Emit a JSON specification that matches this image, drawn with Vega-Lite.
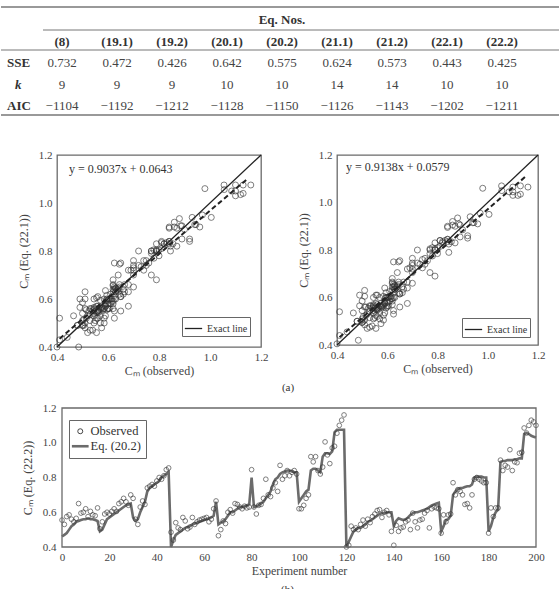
{
  "$schema": "https://vega.github.io/schema/vega-lite/v6.json",
  "usermeta": {"embedOptions": {"actions": false}},
  "padding": 0,
  "background": "white",
  "bounds": "flush",
  "columns": 2,
  "align": "each",
  "spacing": {"row": 61, "column": 76},
  "config": {
    "font": "Liberation Serif",
    "view": {"stroke": "#6a6a6a", "strokeWidth": 1.3},
    "axis": {
      "grid": false, "domain": false, "ticks": false, "tickSize": 0,
      "labelFont": "Liberation Serif", "labelFontSize": 11, "labelColor": "#444",
      "labelFlush": false, "labelOverlap": false,
      "titleFont": "Liberation Serif", "titleFontSize": 12, "titleFontWeight": "normal", "titleColor": "#444"
    },
    "title": {"font": "Liberation Serif", "fontSize": 11, "fontWeight": "normal", "color": "#333"}
  },
  "resolve": {"scale": {"color": "independent"}, "legend": {"color": "independent"}},
  "datasets": {
    "table": [
      {"stat": "SSE", "eq": "(8)", "v": "0.732"}, {"stat": "SSE", "eq": "(19.1)", "v": "0.472"}, {"stat": "SSE", "eq": "(19.2)", "v": "0.426"},
      {"stat": "SSE", "eq": "(20.1)", "v": "0.642"}, {"stat": "SSE", "eq": "(20.2)", "v": "0.575"}, {"stat": "SSE", "eq": "(21.1)", "v": "0.624"},
      {"stat": "SSE", "eq": "(21.2)", "v": "0.573"}, {"stat": "SSE", "eq": "(22.1)", "v": "0.443"}, {"stat": "SSE", "eq": "(22.2)", "v": "0.425"},
      {"stat": "k", "eq": "(8)", "v": "9"}, {"stat": "k", "eq": "(19.1)", "v": "9"}, {"stat": "k", "eq": "(19.2)", "v": "9"},
      {"stat": "k", "eq": "(20.1)", "v": "10"}, {"stat": "k", "eq": "(20.2)", "v": "10"}, {"stat": "k", "eq": "(21.1)", "v": "14"},
      {"stat": "k", "eq": "(21.2)", "v": "14"}, {"stat": "k", "eq": "(22.1)", "v": "10"}, {"stat": "k", "eq": "(22.2)", "v": "10"},
      {"stat": "AIC", "eq": "(8)", "v": "−1104"}, {"stat": "AIC", "eq": "(19.1)", "v": "−1192"}, {"stat": "AIC", "eq": "(19.2)", "v": "−1212"},
      {"stat": "AIC", "eq": "(20.1)", "v": "−1128"}, {"stat": "AIC", "eq": "(20.2)", "v": "−1150"}, {"stat": "AIC", "eq": "(21.1)", "v": "−1126"},
      {"stat": "AIC", "eq": "(21.2)", "v": "−1143"}, {"stat": "AIC", "eq": "(22.1)", "v": "−1202"}, {"stat": "AIC", "eq": "(22.2)", "v": "−1211"}
    ],
    "eqs": [
      {"eq": "(8)"}, {"eq": "(19.1)"}, {"eq": "(19.2)"}, {"eq": "(20.1)"}, {"eq": "(20.2)"},
      {"eq": "(21.1)"}, {"eq": "(21.2)"}, {"eq": "(22.1)"}, {"eq": "(22.2)"}
    ],
    "exact": [{"x": 0.4, "y": 0.4}, {"x": 1.2, "y": 1.2}],
    "fit221": [{"x": 0.41, "y": 0.4348, "eq": "y = 0.9037x + 0.0643"}, {"x": 1.15, "y": 1.1036, "eq": "y = 0.9037x + 0.0643"}],
    "fit222": [{"x": 0.41, "y": 0.4326, "eq": "y = 0.9138x + 0.0579"}, {"x": 1.15, "y": 1.1088, "eq": "y = 0.9138x + 0.0579"}],
    "runs": [
      {"n":0,"o":0.555,"e":0.46,"f":0.47},{"n":1,"o":0.53,"e":0.47,"f":0.475},{"n":2,"o":0.575,"e":0.48,"f":0.49},
      {"n":3,"o":0.585,"e":0.5,"f":0.505},{"n":4,"o":0.56,"e":0.52,"f":0.52},{"n":5,"o":0.545,"e":0.53,"f":0.535},
      {"n":6,"o":0.565,"e":0.545,"f":0.55},{"n":7,"o":0.65,"e":0.55,"f":0.56},{"n":8,"o":0.595,"e":0.555,"f":0.555},
      {"n":9,"o":0.6,"e":0.56,"f":0.565},{"n":10,"o":0.62,"e":0.56,"f":0.57},{"n":11,"o":0.575,"e":0.565,"f":0.56},
      {"n":12,"o":0.605,"e":0.56,"f":0.565},{"n":13,"o":0.585,"e":0.56,"f":0.57},{"n":14,"o":0.58,"e":0.555,"f":0.56},
      {"n":15,"o":0.625,"e":0.55,"f":0.545},{"n":16,"o":0.505,"e":0.49,"f":0.5},{"n":17,"o":0.545,"e":0.5,"f":0.51},
      {"n":18,"o":0.59,"e":0.53,"f":0.535},{"n":19,"o":0.6,"e":0.56,"f":0.56},{"n":20,"o":0.59,"e":0.57,"f":0.575},
      {"n":21,"o":0.605,"e":0.58,"f":0.58},{"n":22,"o":0.62,"e":0.59,"f":0.595},{"n":23,"o":0.605,"e":0.6,"f":0.6},
      {"n":24,"o":0.65,"e":0.61,"f":0.615},{"n":25,"o":0.66,"e":0.62,"f":0.62},{"n":26,"o":0.68,"e":0.63,"f":0.64},
      {"n":27,"o":0.66,"e":0.64,"f":0.645},{"n":28,"o":0.64,"e":0.645,"f":0.65},{"n":29,"o":0.7,"e":0.65,"f":0.66},
      {"n":30,"o":0.68,"e":0.57,"f":0.575},{"n":31,"o":0.56,"e":0.55,"f":0.55},{"n":32,"o":0.53,"e":0.56,"f":0.565},
      {"n":33,"o":0.63,"e":0.6,"f":0.6},{"n":34,"o":0.665,"e":0.63,"f":0.635},{"n":35,"o":0.645,"e":0.66,"f":0.665},
      {"n":36,"o":0.74,"e":0.72,"f":0.725},{"n":37,"o":0.75,"e":0.74,"f":0.74},{"n":38,"o":0.76,"e":0.75,"f":0.755},
      {"n":39,"o":0.75,"e":0.76,"f":0.765},{"n":40,"o":0.78,"e":0.77,"f":0.775},{"n":41,"o":0.8,"e":0.78,"f":0.785},
      {"n":42,"o":0.79,"e":0.8,"f":0.8},{"n":43,"o":0.81,"e":0.81,"f":0.815},{"n":44,"o":0.845,"e":0.82,"f":0.825},
      {"n":45,"o":0.855,"e":0.83,"f":0.835},{"n":46,"o":0.485,"e":0.4,"f":0.42},{"n":47,"o":0.44,"e":0.44,"f":0.455},
      {"n":48,"o":0.54,"e":0.47,"f":0.48},{"n":49,"o":0.51,"e":0.48,"f":0.485},{"n":50,"o":0.5,"e":0.49,"f":0.495},
      {"n":51,"o":0.57,"e":0.5,"f":0.51},{"n":52,"o":0.55,"e":0.51,"f":0.515},{"n":53,"o":0.505,"e":0.515,"f":0.52},
      {"n":54,"o":0.515,"e":0.52,"f":0.525},{"n":55,"o":0.57,"e":0.53,"f":0.535},{"n":56,"o":0.53,"e":0.535,"f":0.54},
      {"n":57,"o":0.545,"e":0.54,"f":0.545},{"n":58,"o":0.555,"e":0.545,"f":0.55},{"n":59,"o":0.56,"e":0.55,"f":0.555},
      {"n":60,"o":0.565,"e":0.555,"f":0.56},{"n":61,"o":0.57,"e":0.56,"f":0.565},{"n":62,"o":0.545,"e":0.565,"f":0.57},
      {"n":63,"o":0.56,"e":0.57,"f":0.57},{"n":64,"o":0.62,"e":0.58,"f":0.585},{"n":65,"o":0.665,"e":0.66,"f":0.665},
      {"n":66,"o":0.465,"e":0.53,"f":0.535},{"n":67,"o":0.5,"e":0.54,"f":0.545},{"n":68,"o":0.55,"e":0.55,"f":0.555},
      {"n":69,"o":0.535,"e":0.56,"f":0.565},{"n":70,"o":0.6,"e":0.58,"f":0.58},{"n":71,"o":0.615,"e":0.6,"f":0.605},
      {"n":72,"o":0.595,"e":0.6,"f":0.6},{"n":73,"o":0.65,"e":0.61,"f":0.615},{"n":74,"o":0.645,"e":0.62,"f":0.62},
      {"n":75,"o":0.63,"e":0.63,"f":0.635},{"n":76,"o":0.62,"e":0.63,"f":0.63},{"n":77,"o":0.635,"e":0.635,"f":0.64},
      {"n":78,"o":0.625,"e":0.64,"f":0.645},{"n":79,"o":0.63,"e":0.645,"f":0.65},{"n":80,"o":0.845,"e":0.8,"f":0.79},
      {"n":81,"o":0.63,"e":0.63,"f":0.635},{"n":82,"o":0.59,"e":0.635,"f":0.64},{"n":83,"o":0.64,"e":0.64,"f":0.645},
      {"n":84,"o":0.645,"e":0.65,"f":0.655},{"n":85,"o":0.68,"e":0.66,"f":0.665},{"n":86,"o":0.79,"e":0.68,"f":0.69},
      {"n":87,"o":0.7,"e":0.7,"f":0.705},{"n":88,"o":0.69,"e":0.72,"f":0.725},{"n":89,"o":0.74,"e":0.76,"f":0.76},
      {"n":90,"o":0.77,"e":0.79,"f":0.785},{"n":91,"o":0.72,"e":0.8,"f":0.8},{"n":92,"o":0.87,"e":0.82,"f":0.83},
      {"n":93,"o":0.79,"e":0.83,"f":0.83},{"n":94,"o":0.81,"e":0.835,"f":0.84},{"n":95,"o":0.84,"e":0.84,"f":0.845},
      {"n":96,"o":0.81,"e":0.84,"f":0.84},{"n":97,"o":0.83,"e":0.835,"f":0.84},{"n":98,"o":0.84,"e":0.83,"f":0.835},
      {"n":99,"o":0.82,"e":0.83,"f":0.83},{"n":100,"o":0.62,"e":0.66,"f":0.665},{"n":101,"o":0.62,"e":0.68,"f":0.68},
      {"n":102,"o":0.64,"e":0.7,"f":0.705},{"n":103,"o":0.68,"e":0.72,"f":0.72},{"n":104,"o":0.7,"e":0.73,"f":0.735},
      {"n":105,"o":0.92,"e":0.84,"f":0.85},{"n":106,"o":0.89,"e":0.85,"f":0.855},{"n":107,"o":0.92,"e":0.85,"f":0.86},
      {"n":108,"o":0.84,"e":0.84,"f":0.845},{"n":109,"o":0.82,"e":0.83,"f":0.835},{"n":110,"o":0.86,"e":0.92,"f":0.92},
      {"n":111,"o":1.005,"e":0.94,"f":0.95},{"n":112,"o":0.93,"e":0.94,"f":0.94},{"n":113,"o":0.88,"e":0.935,"f":0.935},
      {"n":114,"o":0.97,"e":0.95,"f":0.955},{"n":115,"o":0.98,"e":1.06,"f":1.06},{"n":116,"o":1.055,"e":1.075,"f":1.07},
      {"n":117,"o":1.1,"e":1.075,"f":1.065},{"n":118,"o":1.13,"e":1.075,"f":1.07},{"n":119,"o":1.16,"e":1.075,"f":1.065},
      {"n":120,"o":0.4,"e":0.4,"f":0.405},{"n":121,"o":0.41,"e":0.43,"f":0.44},{"n":122,"o":0.52,"e":0.46,"f":0.47},
      {"n":123,"o":0.5,"e":0.49,"f":0.495},{"n":124,"o":0.51,"e":0.5,"f":0.505},{"n":125,"o":0.5,"e":0.51,"f":0.51},
      {"n":126,"o":0.53,"e":0.51,"f":0.515},{"n":127,"o":0.555,"e":0.52,"f":0.525},{"n":128,"o":0.52,"e":0.53,"f":0.53},
      {"n":129,"o":0.56,"e":0.545,"f":0.55},{"n":130,"o":0.54,"e":0.55,"f":0.555},{"n":131,"o":0.575,"e":0.56,"f":0.565},
      {"n":132,"o":0.59,"e":0.57,"f":0.575},{"n":133,"o":0.61,"e":0.58,"f":0.585},{"n":134,"o":0.615,"e":0.59,"f":0.595},
      {"n":135,"o":0.57,"e":0.595,"f":0.6},{"n":136,"o":0.6,"e":0.595,"f":0.6},{"n":137,"o":0.61,"e":0.6,"f":0.605},
      {"n":138,"o":0.585,"e":0.6,"f":0.605},{"n":139,"o":0.49,"e":0.6,"f":0.61},{"n":140,"o":0.41,"e":0.52,"f":0.54},
      {"n":141,"o":0.525,"e":0.55,"f":0.555},{"n":142,"o":0.49,"e":0.565,"f":0.565},{"n":143,"o":0.51,"e":0.56,"f":0.56},
      {"n":144,"o":0.515,"e":0.555,"f":0.56},{"n":145,"o":0.545,"e":0.56,"f":0.565},{"n":146,"o":0.555,"e":0.57,"f":0.575},
      {"n":147,"o":0.5,"e":0.585,"f":0.585},{"n":148,"o":0.595,"e":0.595,"f":0.6},{"n":149,"o":0.545,"e":0.6,"f":0.6},
      {"n":150,"o":0.51,"e":0.6,"f":0.605},{"n":151,"o":0.555,"e":0.605,"f":0.61},{"n":152,"o":0.56,"e":0.61,"f":0.61},
      {"n":153,"o":0.595,"e":0.615,"f":0.62},{"n":154,"o":0.61,"e":0.62,"f":0.625},{"n":155,"o":0.51,"e":0.63,"f":0.63},
      {"n":156,"o":0.62,"e":0.64,"f":0.645},{"n":157,"o":0.63,"e":0.645,"f":0.65},{"n":158,"o":0.625,"e":0.65,"f":0.655},
      {"n":159,"o":0.62,"e":0.655,"f":0.66},{"n":160,"o":0.48,"e":0.49,"f":0.5},{"n":161,"o":0.585,"e":0.52,"f":0.525},
      {"n":162,"o":0.545,"e":0.555,"f":0.56},{"n":163,"o":0.585,"e":0.56,"f":0.565},{"n":164,"o":0.59,"e":0.58,"f":0.585},
      {"n":165,"o":0.77,"e":0.7,"f":0.705},{"n":166,"o":0.7,"e":0.72,"f":0.72},{"n":167,"o":0.73,"e":0.735,"f":0.74},
      {"n":168,"o":0.72,"e":0.74,"f":0.745},{"n":169,"o":0.7,"e":0.74,"f":0.745},{"n":170,"o":0.645,"e":0.745,"f":0.75},
      {"n":171,"o":0.65,"e":0.75,"f":0.755},{"n":172,"o":0.625,"e":0.75,"f":0.75},{"n":173,"o":0.7,"e":0.76,"f":0.765},
      {"n":174,"o":0.79,"e":0.8,"f":0.8},{"n":175,"o":0.8,"e":0.805,"f":0.81},{"n":176,"o":0.79,"e":0.805,"f":0.805},
      {"n":177,"o":0.78,"e":0.805,"f":0.81},{"n":178,"o":0.77,"e":0.8,"f":0.805},{"n":179,"o":0.77,"e":0.8,"f":0.8},
      {"n":180,"o":0.48,"e":0.49,"f":0.5},{"n":181,"o":0.625,"e":0.52,"f":0.53},{"n":182,"o":0.575,"e":0.57,"f":0.575},
      {"n":183,"o":0.625,"e":0.6,"f":0.6},{"n":184,"o":0.625,"e":0.615,"f":0.62},{"n":185,"o":0.9,"e":0.89,"f":0.885},
      {"n":186,"o":0.84,"e":0.895,"f":0.895},{"n":187,"o":0.87,"e":0.895,"f":0.9},{"n":188,"o":0.86,"e":0.9,"f":0.905},
      {"n":189,"o":0.96,"e":0.9,"f":0.91},{"n":190,"o":0.84,"e":0.9,"f":0.9},{"n":191,"o":0.89,"e":0.905,"f":0.905},
      {"n":192,"o":0.885,"e":0.905,"f":0.91},{"n":193,"o":0.94,"e":0.91,"f":0.915},{"n":194,"o":0.945,"e":0.91,"f":0.915},
      {"n":195,"o":1.085,"e":1.05,"f":1.045},{"n":196,"o":1.056,"e":1.056,"f":1.05},{"n":197,"o":1.1,"e":1.05,"f":1.045},
      {"n":198,"o":1.13,"e":1.04,"f":1.035},{"n":199,"o":1.12,"e":1.035,"f":1.03},{"n":200,"o":1.1,"e":1.03,"f":1.03}
    ]
  },
  "concat": [
    {
      "width": 204,
      "height": 94,
      "view": {"stroke": null},
      "layer": [
        {
          "data": {"values": [{"t": "Eq.  Nos."}]},
          "mark": {"type": "text", "fontSize": 13, "fontWeight": "bold", "color": "#333", "baseline": "middle"},
          "encoding": {
            "x": {"datum": "(20.2)", "type": "nominal", "axis": null,
                  "scale": {"type": "point", "padding": 0, "range": [-50, 445],
                            "domain": ["lab", "(8)", "(19.1)", "(19.2)", "(20.1)", "(20.2)", "(21.1)", "(21.2)", "(22.1)", "(22.2)"]}},
            "y": {"datum": "top", "type": "nominal", "axis": null,
                  "scale": {"type": "point", "padding": 0, "range": [20, 106], "domain": ["top", "head", "SSE", "k", "AIC"]}},
            "text": {"field": "t"}
          }
        },
        {
          "data": {"name": "eqs"},
          "mark": {"type": "text", "fontSize": 13, "fontWeight": "bold", "color": "#333", "baseline": "middle"},
          "encoding": {
            "x": {"field": "eq", "type": "nominal", "axis": null},
            "y": {"datum": "head", "type": "nominal", "axis": null},
            "text": {"field": "eq"}
          }
        },
        {
          "data": {"values": [{"stat": "SSE"}, {"stat": "AIC"}]},
          "mark": {"type": "text", "fontSize": 13, "fontWeight": "bold", "color": "#333", "align": "left", "baseline": "middle"},
          "encoding": {
            "x": {"datum": "lab", "type": "nominal", "axis": null},
            "y": {"field": "stat", "type": "nominal", "axis": null},
            "text": {"field": "stat"}
          }
        },
        {
          "data": {"values": [{"stat": "k"}]},
          "mark": {"type": "text", "fontSize": 13, "fontWeight": "bold", "fontStyle": "italic", "color": "#333", "align": "left", "baseline": "middle", "dx": 8},
          "encoding": {
            "x": {"datum": "lab", "type": "nominal", "axis": null},
            "y": {"field": "stat", "type": "nominal", "axis": null},
            "text": {"field": "stat"}
          }
        },
        {
          "data": {"name": "table"},
          "mark": {"type": "text", "fontSize": 13, "color": "#444", "baseline": "middle"},
          "encoding": {
            "x": {"field": "eq", "type": "nominal", "axis": null},
            "y": {"field": "stat", "type": "nominal", "axis": null},
            "text": {"field": "v"}
          }
        },
        {
          "data": {"values": [{}]},
          "mark": {"type": "rule", "color": "#777", "strokeWidth": 1.5, "xOffset": -6, "x2Offset": 58, "yOffset": -13},
          "encoding": {
            "x": {"datum": "lab", "type": "nominal", "axis": null},
            "x2": {"datum": "(22.2)"},
            "y": {"datum": "top", "type": "nominal", "axis": null}
          }
        },
        {
          "data": {"values": [{}]},
          "mark": {"type": "rule", "color": "#777", "strokeWidth": 1, "xOffset": -19, "x2Offset": 58, "yOffset": 10},
          "encoding": {
            "x": {"datum": "(8)", "type": "nominal", "axis": null},
            "x2": {"datum": "(22.2)"},
            "y": {"datum": "top", "type": "nominal", "axis": null}
          }
        },
        {
          "data": {"values": [{}]},
          "mark": {"type": "rule", "color": "#777", "strokeWidth": 1, "xOffset": -6, "x2Offset": 58, "yOffset": 8.5},
          "encoding": {
            "x": {"datum": "lab", "type": "nominal", "axis": null},
            "x2": {"datum": "(22.2)"},
            "y": {"datum": "head", "type": "nominal", "axis": null}
          }
        },
        {
          "data": {"values": [{}]},
          "mark": {"type": "rule", "color": "#777", "strokeWidth": 1.5, "xOffset": -6, "x2Offset": 58, "yOffset": 9},
          "encoding": {
            "x": {"datum": "lab", "type": "nominal", "axis": null},
            "x2": {"datum": "(22.2)"},
            "y": {"datum": "AIC", "type": "nominal", "axis": null}
          }
        }
      ]
    },
    {
      "width": 1,
      "height": 1,
      "view": {"stroke": null},
      "data": {"values": []},
      "mark": "point"
    },
    {
      "width": 204,
      "height": 192,
      "title": {"text": "(a)", "orient": "bottom", "anchor": "middle", "offset": 6, "dx": 129},
      "layer": [
        {
          "data": {"name": "runs"},
          "mark": {"type": "point", "filled": false, "stroke": "#333", "strokeWidth": 0.9, "size": 36},
          "encoding": {
            "x": {"field": "o", "type": "quantitative",
                  "scale": {"domain": [0.4, 1.2], "nice": false, "zero": false},
                  "axis": {"title": "Cₘ (observed)", "values": [0.4, 0.6, 0.8, 1.0, 1.2], "tickCount": 5, "format": ".1f", "labelPadding": 4, "titlePadding": 3}},
            "y": {"field": "e", "type": "quantitative",
                  "scale": {"domain": [0.4, 1.2], "nice": false, "zero": false},
                  "axis": {"title": "Cₘ (Eq. (22.1))", "values": [0.4, 0.6, 0.8, 1.0, 1.2], "tickCount": 5, "format": ".1f", "labelPadding": 5, "titlePadding": 8}}
          }
        },
        {
          "data": {"name": "fit221"},
          "mark": {"type": "line", "color": "#222", "strokeWidth": 2, "strokeDash": [5, 3]},
          "encoding": {"x": {"field": "x", "type": "quantitative"}, "y": {"field": "y", "type": "quantitative"}}
        },
        {
          "data": {"name": "exact"},
          "mark": {"type": "line", "strokeWidth": 1.3},
          "encoding": {
            "x": {"field": "x", "type": "quantitative"},
            "y": {"field": "y", "type": "quantitative"},
            "color": {"datum": "Exact line", "type": "nominal", "scale": {"domain": ["Exact line"], "range": ["#222"]},
                      "legend": {"orient": "bottom-right", "offset": 11, "title": null, "symbolType": "stroke", "symbolStrokeWidth": 1.3,
                                 "symbolSize": 300, "labelFontSize": 10, "labelFont": "Liberation Serif", "labelColor": "#333",
                                 "strokeColor": "#666", "fillColor": "white", "padding": 2}}
          }
        },
        {
          "data": {"name": "fit221"},
          "transform": [{"filter": "datum.x < 1"}],
          "mark": {"type": "text", "align": "left", "baseline": "middle", "fontSize": 12, "color": "#333"},
          "encoding": {
            "x": {"datum": 0.447, "type": "quantitative"},
            "y": {"datum": 1.142, "type": "quantitative"},
            "text": {"field": "eq"}
          }
        }
      ]
    },
    {
      "width": 201,
      "height": 190,
      "layer": [
        {
          "data": {"name": "runs"},
          "mark": {"type": "point", "filled": false, "stroke": "#333", "strokeWidth": 0.9, "size": 36},
          "encoding": {
            "x": {"field": "o", "type": "quantitative",
                  "scale": {"domain": [0.4, 1.2], "nice": false, "zero": false},
                  "axis": {"title": "Cₘ (observed)", "values": [0.4, 0.6, 0.8, 1.0, 1.2], "tickCount": 5, "format": ".1f", "labelPadding": 4, "titlePadding": 3}},
            "y": {"field": "f", "type": "quantitative",
                  "scale": {"domain": [0.4, 1.2], "nice": false, "zero": false},
                  "axis": {"title": "Cₘ (Eq. (22.1))", "values": [0.4, 0.6, 0.8, 1.0, 1.2], "tickCount": 5, "format": ".1f", "labelPadding": 5, "titlePadding": 8}}
          }
        },
        {
          "data": {"name": "fit222"},
          "mark": {"type": "line", "color": "#222", "strokeWidth": 2, "strokeDash": [5, 3]},
          "encoding": {"x": {"field": "x", "type": "quantitative"}, "y": {"field": "y", "type": "quantitative"}}
        },
        {
          "data": {"name": "exact"},
          "mark": {"type": "line", "strokeWidth": 1.3},
          "encoding": {
            "x": {"field": "x", "type": "quantitative"},
            "y": {"field": "y", "type": "quantitative"},
            "color": {"datum": "Exact line", "type": "nominal", "scale": {"domain": ["Exact line"], "range": ["#222"]},
                      "legend": {"orient": "bottom-right", "offset": 8, "title": null, "symbolType": "stroke", "symbolStrokeWidth": 1.3,
                                 "symbolSize": 300, "labelFontSize": 10, "labelFont": "Liberation Serif", "labelColor": "#333",
                                 "strokeColor": "#666", "fillColor": "white", "padding": 2}}
          }
        },
        {
          "data": {"name": "fit222"},
          "transform": [{"filter": "datum.x < 1"}],
          "mark": {"type": "text", "align": "left", "baseline": "middle", "fontSize": 12, "color": "#333"},
          "encoding": {
            "x": {"datum": 0.436, "type": "quantitative"},
            "y": {"datum": 1.15, "type": "quantitative"},
            "text": {"field": "eq"}
          }
        }
      ]
    },
    {
      "width": 199,
      "height": 139,
      "view": {"stroke": null},
      "title": {"text": "(b)", "orient": "bottom", "anchor": "middle", "offset": 8, "dx": 131},
      "data": {"name": "runs"},
      "layer": [
        {
          "mark": {"type": "line", "strokeWidth": 2.6},
          "encoding": {
            "x": {"field": "n", "type": "quantitative",
                  "scale": {"domain": [0, 200], "nice": false, "zero": false, "range": [5, 479]},
                  "axis": {"title": "Experiment number", "values": [0, 20, 40, 60, 80, 100, 120, 140, 160, 180, 200], "tickCount": 11, "labelPadding": 4, "titlePadding": 3}},
            "y": {"field": "e", "type": "quantitative",
                  "scale": {"domain": [0.4, 1.2], "nice": false, "zero": false},
                  "axis": {"title": "Cₘ (Eq. (22.2))", "values": [0.4, 0.6, 0.8, 1.0, 1.2], "tickCount": 5, "format": ".1f", "offset": -5, "labelPadding": 6, "titlePadding": 8}},
            "color": {"datum": "Eq. (20.2)", "type": "nominal",
                      "scale": {"domain": ["Observed", "Eq. (20.2)"], "range": ["#333", "#6b6b6b"]},
                      "legend": {"orient": "top-left", "offset": 12, "title": null, "strokeColor": "#666", "fillColor": "white",
                                 "padding": 5, "labelFontSize": 12.5, "labelFont": "Liberation Serif", "labelColor": "#333", "rowPadding": 2,
                                 "encode": {"symbols": {"update": {
                                   "shape": {"signal": "datum.value === 'Observed' ? 'circle' : 'stroke'"},
                                   "size": {"signal": "datum.value === 'Observed' ? 25 : 280"},
                                   "strokeWidth": {"signal": "datum.value === 'Observed' ? 0.9 : 2.6"},
                                   "fill": {"value": "transparent"}
                                 }}}}}
          }
        },
        {
          "mark": {"type": "point", "filled": false, "size": 22, "strokeWidth": 0.9},
          "encoding": {
            "x": {"field": "n", "type": "quantitative"},
            "y": {"field": "o", "type": "quantitative"},
            "color": {"datum": "Observed", "type": "nominal"}
          }
        },
        {
          "data": {"values": [{}]},
          "mark": {"type": "rect", "fill": null, "stroke": "#6a6a6a", "strokeWidth": 1.3},
          "encoding": {
            "x": {"datum": 0, "type": "quantitative"},
            "x2": {"datum": 200},
            "y": {"datum": 0.4, "type": "quantitative"},
            "y2": {"datum": 1.2}
          }
        }
      ]
    }
  ]
}
